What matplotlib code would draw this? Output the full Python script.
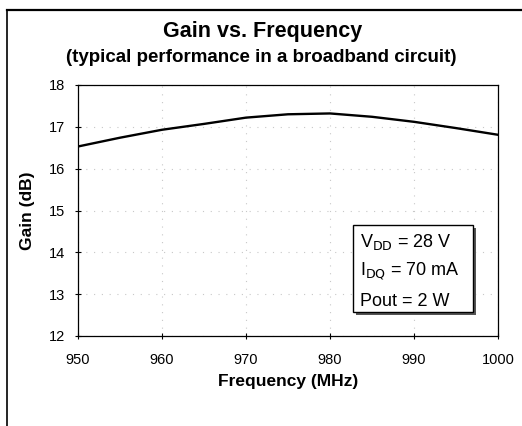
import matplotlib.pyplot as plt
from matplotlib.lines import Line2D
from matplotlib.ticker import MultipleLocator

plt.rcParams['font.family'] = ['Liberation Sans', 'DejaVu Sans']

freq = [950, 955, 960, 965, 970, 975, 980, 985, 990, 995, 1000]
gain = [16.53, 16.74, 16.93, 17.07, 17.22, 17.3, 17.32, 17.24, 17.12, 16.97, 16.81]

title = 'Gain vs. Frequency'
subtitle = '(typical performance in a broadband circuit)'
note = ['V$_{\\mathrm{DD}}$ = 28 V', 'I$_{\\mathrm{DQ}}$ = 70 mA', 'Pout = 2 W']

W, H = 522, 426
fig = plt.figure(figsize=(W / 100, H / 100), dpi=100)
ax = fig.add_axes([78 / W, 1 - 336 / H, 420 / W, 251 / H])

ax.plot(freq, gain, '-k', lw=1.7)
ax.set_xlim(950, 1000)
ax.set_ylim(12, 18)
ax.xaxis.set_major_locator(MultipleLocator(10))
ax.yaxis.set_major_locator(MultipleLocator(1))
ax.grid(which='major', color='#C8C8C8', linestyle=(0, (1, 6)), lw=0.8)
ax.tick_params(direction='inout', length=5, width=0.8, labelsize=10.5)
ax.tick_params(axis='x', pad=10)
ax.tick_params(axis='y', pad=7)
for s in ax.spines.values():
    s.set_linewidth(0.9)

ax.set_xlabel('Frequency (MHz)', fontsize=12.5, fontweight='bold')
ax.set_ylabel('Gain (dB)', fontsize=12.5, fontweight='bold')
ax.xaxis.set_label_coords(0.5, -0.15)
ax.yaxis.set_label_coords(-0.102, 0.5)

fig.text(263 / W, 1 - 31 / H, title, ha='center', va='center',
         fontsize=15.5, fontweight='bold')
fig.text(261 / W, 1 - 57 / H, subtitle, ha='center', va='center',
         fontsize=13.5, fontweight='bold')

# conditions box with shadow
bx0, by0, bw, bh = 353, 225, 120, 87
fig.patches.append(plt.Rectangle(((bx0 + 3) / W, 1 - (by0 + bh + 3) / H), bw / W, bh / H,
                                 transform=fig.transFigure, fc='#555555', ec='none', zorder=3))
fig.patches.append(plt.Rectangle((bx0 / W, 1 - (by0 + bh) / H), bw / W, bh / H,
                                 transform=fig.transFigure, fc='white', ec='black', lw=1, zorder=4))
for i, t in enumerate(note):
    fig.text((bx0 + 7) / W, 1 - (by0 + 17 + i * 29.5) / H, t, ha='left', va='center',
             fontsize=13, zorder=5)

# outer frame
fig.lines.append(Line2D([7 / W, 7 / W], [0, 1 - 10 / H], transform=fig.transFigure, color='black', lw=1.2))
fig.lines.append(Line2D([7 / W, 1], [1 - 10 / H, 1 - 10 / H], transform=fig.transFigure, color='black', lw=1.6))

fig.savefig('out.png', dpi=100)
